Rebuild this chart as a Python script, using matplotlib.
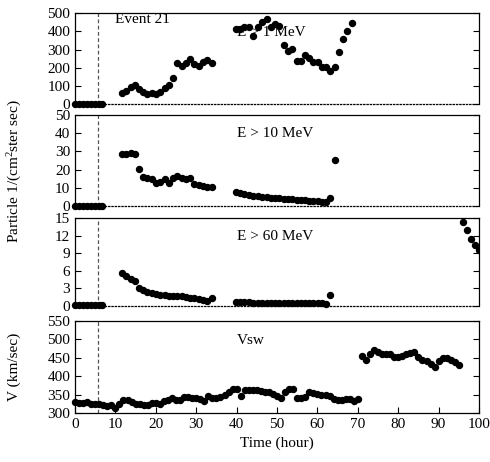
import matplotlib
matplotlib.use("Agg")
import matplotlib.pyplot as plt
import numpy as np

plt.rcParams['font.family'] = ['Liberation Serif', 'DejaVu Serif']
plt.rcParams['mathtext.fontset'] = 'custom'
plt.rcParams['mathtext.rm'] = 'Liberation Serif'
plt.rcParams['mathtext.it'] = 'Liberation Serif:italic'
plt.rcParams['font.size'] = 11

# hours
t_quiet = [0, 1, 2, 3, 4, 5, 6, 6.6]
t_a = [11.55, 12.6, 13.8, 14.85, 15.9, 16.9, 17.9, 19.0, 20.05, 21.0, 22.2,
       23.3, 24.3, 25.3, 26.4, 27.5, 28.5, 29.5, 30.6, 31.6, 32.7, 33.8]
t_b = [39.85, 40.8, 41.9, 43.0, 44.1, 45.2, 46.3, 47.4, 48.4, 49.5, 50.6,
       51.65, 52.8, 53.8, 54.9, 55.9, 56.9, 58.0, 59.0, 60.1, 61.1, 62.2,
       63.2, 64.3, 65.3, 66.3, 67.4, 68.6]
t_late = [96, 97, 98, 99, 100]

# E > 1 MeV
e1_quiet = [0, 0, 0, 0, 0, 0, 0, 0]
e1_a = [62, 74, 96, 107, 81, 66, 57, 62, 55, 66, 86, 103, 143, 224, 211, 226,
        248, 221, 210, 230, 243, 224]
e1_b = [412, 412, 423, 423, 375, 423, 450, 469, 423, 441, 430, 327, 294, 301,
        237, 235, 270, 255, 233, 233, 206, 206, 184, 206, 289, 358, 404, 445]

# E > 10 MeV
e10_quiet = [0, 0, 0, 0, 0, 0, 0, 0]
e10_a = [28.8, 28.8, 29.3, 28.4, 20.1, 16.0, 15.5, 14.8, 12.7, 13.3, 14.8,
         12.7, 15.1, 16.6, 15.1, 14.6, 15.1, 12.2, 11.4, 10.7, 10.3, 10.5]
e10_b = [7.4, 7.0, 6.5, 6.1, 5.5, 5.2, 5.0, 4.6, 4.4, 4.2, 4.1, 3.9, 3.7, 3.5,
         3.3, 3.1, 2.95, 2.8, 2.6, 2.4, 2.2, 1.8, 4.1, 25.3]

# E > 60 MeV
e60_quiet = [0.2, 0.2, 0.2, 0.2, 0.2, 0.2, 0.2, 0.2]
e60_a = [5.6, 5.2, 4.7, 4.3, 3.1, 2.7, 2.45, 2.2, 2.0, 1.8, 1.8, 1.65, 1.7,
         1.7, 1.65, 1.55, 1.4, 1.3, 1.15, 1.0, 0.9, 1.3]
e60_b = [0.65, 0.63, 0.6, 0.6, 0.58, 0.56, 0.55, 0.55, 0.53, 0.52, 0.52, 0.5,
         0.5, 0.5, 0.48, 0.48, 0.47, 0.46, 0.45, 0.45, 0.44, 0.42, 1.85]
e60_late = [14.3, 13.0, 11.5, 10.4, 9.6]

# solar wind speed, hourly from 0 h
vsw = [331, 329, 329, 331, 326, 326, 326, 322, 320, 322,
       315, 324, 335, 337, 330, 325, 324, 323, 322, 327,
       328, 326, 333, 335, 340, 335, 336, 344, 344, 342,
       342, 338, 333, 348, 342, 341, 344, 350, 357, 366,
       366, 348, 364, 364, 363, 362, 359, 358, 357, 353,
       348, 342, 357, 365, 365, 342, 342, 344, 357, 355,
       351, 350, 349, 346, 339, 337, 337, 338, 339, 334,
       338,
       456, 443, 459, 471, 465, 461, 461, 461, 453, 452,
       456, 459, 464, 466, 451, 445, 440, 432, 425, 440,
       448, 448, 443, 438, 431]
t_vsw = np.arange(len(vsw))

event_time = 5.7


def style_axis(ax, ylim, yticks, bottom_dotted=True):
    ax.set_xlim(0, 100)
    ax.set_ylim(ylim)
    ax.set_yticks(yticks)
    ax.tick_params(axis='y', direction='in', left=True, right=True, length=4, width=0.8)
    ax.tick_params(axis='x', direction='in', top=False, length=4, width=0.8)
    for s in ax.spines.values():
        s.set_linewidth(0.9)
    if bottom_dotted:
        ax.spines['bottom'].set_linestyle(':')
        ax.set_xticks([])
    ax.axvline(event_time, color='#555555', linestyle='--', linewidth=0.9, dashes=(3, 2))


def dots(ax, x, y):
    ax.plot(x, y, 'o', color='black', markersize=4.3, clip_on=False)


fig = plt.figure(figsize=(4.9, 4.62), dpi=100)
left, width = 0.1531, 0.8245
ax1 = fig.add_axes([left, 0.7749, width, 0.1963])
ax2 = fig.add_axes([left, 0.5548, width, 0.1957])
ax3 = fig.add_axes([left, 0.3377, width, 0.1898])
ax4 = fig.add_axes([left, 0.1054, width, 0.2004])

style_axis(ax1, (0, 500), range(0, 501, 100))
dots(ax1, t_quiet, e1_quiet)
dots(ax1, t_a, e1_a)
dots(ax1, t_b, e1_b)
ax1.text(10, 0.93, "Event 21", transform=ax1.get_xaxis_transform(), va='center')
ax1.text(40, 0.79, "E > 1 MeV", transform=ax1.get_xaxis_transform(), va='center')

style_axis(ax2, (0, 50), range(0, 51, 10))
dots(ax2, t_quiet, e10_quiet)
dots(ax2, t_a, e10_a)
dots(ax2, t_b[:len(e10_b)], e10_b)
ax2.text(40, 0.80, "E > 10 MeV", transform=ax2.get_xaxis_transform(), va='center')

style_axis(ax3, (0, 15), range(0, 16, 3))
dots(ax3, t_quiet, e60_quiet)
dots(ax3, t_a, e60_a)
dots(ax3, t_b[:len(e60_b)], e60_b)
ax3.plot(t_late, e60_late, 'o', color='black', markersize=4.3, clip_on=True)
ax3.text(40, 0.79, "E > 60 MeV", transform=ax3.get_xaxis_transform(), va='center')

style_axis(ax4, (300, 550), range(300, 551, 50), bottom_dotted=False)
ax4.set_xticks(range(0, 101, 10))
dots(ax4, t_vsw, vsw)
ax4.text(40, 0.79, "Vsw", transform=ax4.get_xaxis_transform(), va='center')
ax4.set_xlabel("Time (hour)", labelpad=4)

fig.text(0.03, 0.63, "Particle 1/(cm$^{2}$ster sec)", rotation=90, ha='center', va='center')
fig.text(0.03, 0.205, "V (km/sec)", rotation=90, ha='center', va='center')

plt.savefig("out.png", dpi=100)
